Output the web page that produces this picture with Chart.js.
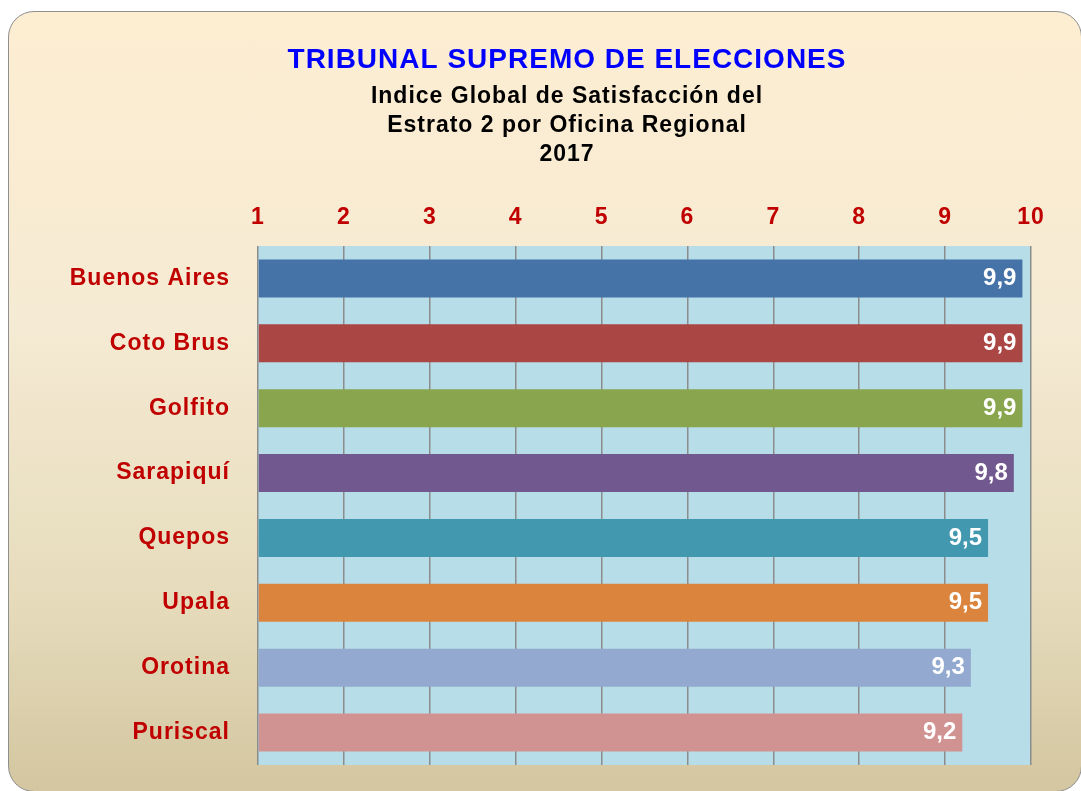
<!DOCTYPE html>
<html>
<head>
<meta charset="utf-8">
<script src="https://cdn.jsdelivr.net/npm/chart.js@4"></script>
<style>
    html, body { margin: 0; padding: 0; background: #ffffff; }
    body { width: 1081px; height: 791px; position: relative; overflow: hidden; }
    .card {
        position: absolute; left: 8px; top: 11px; width: 1074px; height: 781px;
        border: 1.5px solid #8f8f8f; border-radius: 26px;
        background: linear-gradient(to bottom, #fdeed2 0%, #f5ead3 40%, #e6dcbc 75%, #d3c6a0 100%);
        box-sizing: border-box;
    }
    #wrap { position: absolute; left: 0; top: 0; width: 1081px; height: 791px; }
</style>
</head>
<body>
<div class="card"></div>
<div id="wrap"><canvas id="chart"></canvas></div>
<script>
const categories = ['Buenos Aires', 'Coto Brus', 'Golfito', 'Sarapiquí', 'Quepos', 'Upala', 'Orotina', 'Puriscal'];
const values = [9.9, 9.9, 9.9, 9.8, 9.5, 9.5, 9.3, 9.2];
const barColors = ['#4572a7', '#aa4643', '#89a54e', '#71588f', '#4198af', '#db843d', '#93a9cf', '#d19392'];
const tickLabels = ['1', '2', '3', '4', '5', '6', '7', '8', '9', '10'];

const FONT = '"Liberation Sans", Arial, sans-serif';
const RED = '#c00000';

// light blue plot background + a little letter spacing for the texts
const plotBg = {
    id: 'plotBg',
    beforeDraw(chart) {
        const a = chart.chartArea;
        const ctx = chart.ctx;
        ctx.letterSpacing = '1px';
        ctx.save();
        ctx.fillStyle = '#b7dde8';
        ctx.fillRect(a.left, a.top, a.right - a.left, a.bottom - a.top);
        ctx.restore();
    }
};

// white value labels at the inner end of each bar
const valueLabels = {
    id: 'valueLabels',
    afterDatasetsDraw(chart) {
        const ctx = chart.ctx;
        const meta = chart.getDatasetMeta(0);
        ctx.save();
        ctx.letterSpacing = '0px';
        ctx.fillStyle = '#ffffff';
        ctx.font = 'bold 24px ' + FONT;
        ctx.textAlign = 'right';
        ctx.textBaseline = 'middle';
        meta.data.forEach((bar, i) => {
            ctx.fillText(values[i].toFixed(1).replace('.', ','), bar.x - 6, bar.y);
        });
        ctx.restore();
    }
};

new Chart(document.getElementById('chart'), {
    type: 'bar',
    data: {
        labels: categories,
        datasets: [{
            data: values,
            backgroundColor: barColors,
            borderWidth: 0,
            categoryPercentage: 1,
            barPercentage: 0.585,
            base: 1
        }]
    },
    options: {
        indexAxis: 'y',
        responsive: true,
        maintainAspectRatio: false,
        animation: false,
        layout: { padding: { left: 53, right: 0, top: 0, bottom: 26 } },
        plugins: {
            legend: { display: false },
            tooltip: { enabled: false },
            title: {
                display: true,
                text: 'TRIBUNAL SUPREMO DE ELECCIONES',
                color: '#0000ff',
                font: { family: FONT, size: 28, weight: 'bold', lineHeight: 1.2 },
                padding: { top: 43, bottom: 6 }
            },
            subtitle: {
                display: true,
                text: ['Indice Global de Satisfacción del', 'Estrato 2 por Oficina Regional', '2017'],
                color: '#000000',
                font: { family: FONT, size: 23, weight: 'bold', lineHeight: 29 / 23 },
                padding: { top: 0, bottom: 0 }
            }
        },
        scales: {
            x: {
                position: 'top',
                min: 1,
                max: 10,
                afterBuildTicks(scale) {
                    scale.ticks = tickLabels.map(t => ({ value: Number(t) }));
                },
                afterFit(scale) { scale.height = 76.4; },
                ticks: {
                    color: RED,
                    font: { family: FONT, size: 23, weight: 'bold' },
                    padding: 15,
                    maxRotation: 0,
                    callback: (v, i) => tickLabels[i]
                },
                grid: { color: '#8c8c8c', lineWidth: 1.5, drawTicks: false },
                border: { display: false }
            },
            y: {
                afterFit(scale) {
                    scale.width = 205;
                    scale.paddingTop = 0;
                    scale.paddingBottom = 0;
                },
                ticks: {
                    color: RED,
                    font: { family: FONT, size: 23, weight: 'bold' },
                    padding: 28
                },
                grid: { display: false, drawTicks: false },
                border: { display: false }
            },
            // empty right-hand axis, only keeps room right of the plot
            yRight: {
                type: 'category',
                position: 'right',
                afterFit(scale) {
                    scale.width = 50;
                    scale.paddingTop = 0;
                    scale.paddingBottom = 0;
                },
                ticks: { display: false },
                grid: { display: false, drawTicks: false },
                border: { display: false }
            }
        }
    },
    plugins: [plotBg, valueLabels]
});
</script>
</body>
</html>
